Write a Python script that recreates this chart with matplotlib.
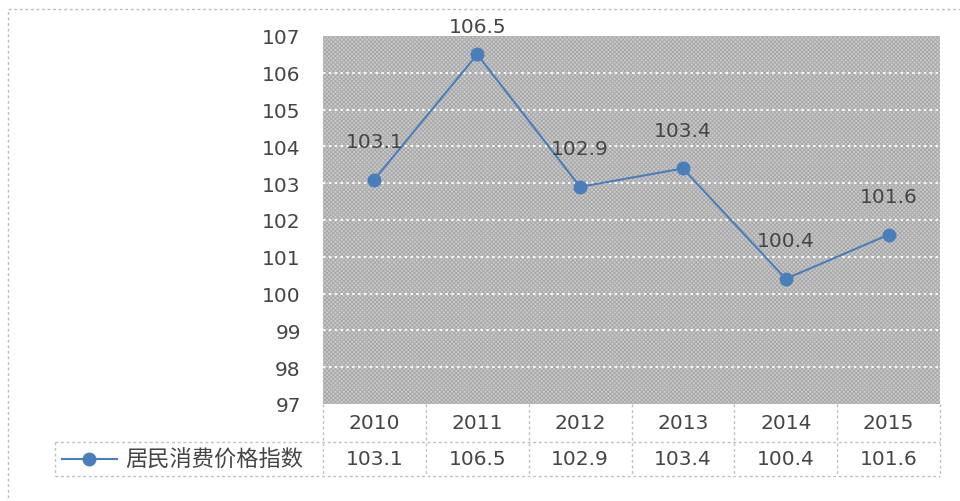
import matplotlib
matplotlib.use("Agg")
import matplotlib.pyplot as plt
from matplotlib.patches import Rectangle
from matplotlib.lines import Line2D

years = ["2010", "2011", "2012", "2013", "2014", "2015"]
cpi = [103.1, 106.5, 102.9, 103.4, 100.4, 101.6]
value_labels = ["103.1", "106.5", "102.9", "103.4", "100.4", "101.6"]
series_name = "居民消费价格指数"
yticks = [97, 98, 99, 100, 101, 102, 103, 104, 105, 106, 107]

plt.rcParams['font.family'] = ['DejaVu Sans', 'Noto Sans CJK SC']
plt.rcParams['hatch.linewidth'] = 0.7
TXT = '#454545'
BLUE = '#4a7ebb'
GRID_EDGE = '#c0c0c0'

fig = plt.figure(figsize=(9.6, 5.02), dpi=100)
W, H = 960, 502
ax = fig.add_axes([323 / W, 1 - 405 / H, 617 / W, 368 / H])

# hatched grey background
ax.set_facecolor('#cbcbcb')
bg = Rectangle((0, 0), 1, 1, transform=ax.transAxes, facecolor='none',
               edgecolor='#a9a9a9', hatch='xxxxxxxx', linewidth=0, zorder=0.5)
ax.add_patch(bg)

x = list(range(len(years)))
ax.set_xlim(-0.5, len(years) - 0.5)
ax.set_ylim(97, 107)
for t in yticks[1:-1]:
    ax.axhline(t, color='white', lw=1.5, ls=(0, (1.2, 1.6)), alpha=0.9, zorder=1)

ax.plot(x, cpi, color=BLUE, lw=1.5, marker='o', markersize=9,
        markerfacecolor=BLUE, markeredgecolor=BLUE, zorder=3)
for xi, v, lab in zip(x, cpi, value_labels):
    ax.text(xi, min(v + 1.03, 107.25), lab, ha='center', va='center',
            fontsize=14.5, color=TXT, zorder=4)

ax.set_yticks(yticks)
ax.set_yticklabels([str(t) for t in yticks], fontsize=14.5, color=TXT)
ax.tick_params(axis='y', length=0, pad=16)
ax.set_xticks([])
for s in ax.spines.values():
    s.set_visible(False)

# data table below the plot
tx = ax.get_xaxis_transform()
r1 = -38 / 368
r2 = -72 / 368
leg_left = (55 - 323) / 617
line_kw = dict(color=GRID_EDGE, lw=1.0, ls=(0, (2, 2)), clip_on=False)
for b in [i - 0.5 for i in range(len(years) + 1)]:
    ax.add_line(Line2D([b, b], [0, r2], transform=tx, **line_kw))
ax.add_line(Line2D([leg_left, 1], [r1, r1], transform=ax.transAxes, **line_kw))
ax.add_line(Line2D([leg_left, 1], [r2, r2], transform=ax.transAxes, **line_kw))
ax.add_line(Line2D([leg_left, leg_left], [r1, r2], transform=ax.transAxes, **line_kw))

for xi, y in zip(x, years):
    ax.text(xi, r1 / 2, y, transform=tx, ha='center', va='center',
            fontsize=14.5, color=TXT)
for xi, lab in zip(x, value_labels):
    ax.text(xi, (r1 + r2) / 2, lab, transform=tx, ha='center', va='center',
            fontsize=14.5, color=TXT)

# legend key in table
ym = (r1 + r2) / 2
k0 = (62 - 323) / 617
k1 = (117 - 323) / 617
ax.add_line(Line2D([k0, k1], [ym, ym], transform=ax.transAxes, color=BLUE,
                   lw=1.5, clip_on=False))
ax.add_line(Line2D([(k0 + k1) / 2], [ym], transform=ax.transAxes, color=BLUE,
                   marker='o', markersize=9, clip_on=False))
ax.text((125 - 323) / 617, ym, series_name, transform=ax.transAxes,
        ha='left', va='center', fontsize=16, color=TXT,
        family=['Noto Sans CJK SC', 'DejaVu Sans'])

# outer dashed frame
frame = Rectangle((8 / W, -0.1), 1.2, 1 - 10 / H + 0.1, transform=fig.transFigure,
                  facecolor='none', edgecolor='#bdbdbd', lw=1.0, ls=(0, (2, 2)),
                  clip_on=False)
fig.add_artist(frame)

fig.savefig('out.png', dpi=100)
